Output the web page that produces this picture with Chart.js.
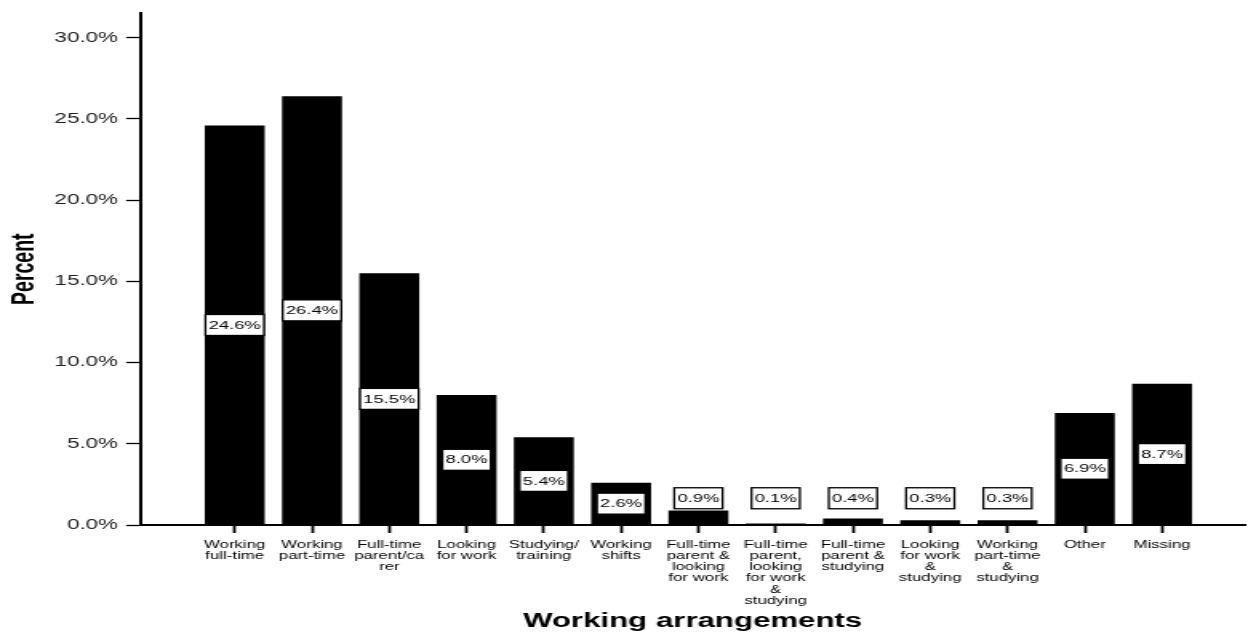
<!DOCTYPE html>
<html>
<head>
<meta charset="utf-8">
<script src="https://cdn.jsdelivr.net/npm/chart.js@4.4.0/dist/chart.umd.min.js"></script>
<style>
  html, body { margin: 0; padding: 0; background: #fff; overflow: hidden; }
  /* the reference is stretched sideways, so draw narrow and scale it out */
  #wrap { width: 780px; height: 642px; transform: scaleX(1.6); transform-origin: 0 0; }
</style>
</head>
<body>
<div id="wrap"><canvas id="chart" width="780" height="642"></canvas></div>
<script>
const categories = [
  ['Working', 'full-time'],
  ['Working', 'part-time'],
  ['Full-time', 'parent/ca', 'rer'],
  ['Looking', 'for work'],
  ['Studying/', 'training'],
  ['Working', 'shifts'],
  ['Full-time', 'parent &', 'looking', 'for work'],
  ['Full-time', 'parent,', 'looking', 'for work', '&', 'studying'],
  ['Full-time', 'parent &', 'studying'],
  ['Looking', 'for work', '&', 'studying'],
  ['Working', 'part-time', '&', 'studying'],
  ['Other'],
  ['Missing']
];
const percents = [24.6, 26.4, 15.5, 8.0, 5.4, 2.6, 0.9, 0.1, 0.4, 0.3, 0.3, 6.9, 8.7];
const yTicks = [0, 5, 10, 15, 20, 25, 30];

const FONT = '"Liberation Sans", Arial, Helvetica, sans-serif';

// white boxed value labels, centred in the bar or sat above short bars
const boxLabels = {
  id: 'boxLabels',
  afterDatasetsDraw(chart) {
    const ctx = chart.ctx;
    const yScale = chart.scales.y;
    const meta = chart.getDatasetMeta(0);
    ctx.save();
    ctx.font = '11.5px ' + FONT;
    ctx.textAlign = 'center';
    ctx.textBaseline = 'middle';
    meta.data.forEach((bar, i) => {
      const text = percents[i].toFixed(1) + '%';
      const w = ctx.measureText(text).width + 4;
      const h = 21;
      const barH = bar.base - bar.y;
      const cy = barH > h + 4 ? (bar.y + bar.base) / 2 : yScale.getPixelForValue(1) - h / 2;
      ctx.fillStyle = '#fff';
      ctx.fillRect(bar.x - w / 2, cy - h / 2, w, h);
      ctx.strokeStyle = '#000';
      ctx.lineWidth = 1.3;
      ctx.strokeRect(bar.x - w / 2, cy - h / 2, w, h);
      ctx.fillStyle = '#000';
      ctx.fillText(text, bar.x, cy + 0.5);
    });
    ctx.restore();
  }
};

new Chart(document.getElementById('chart'), {
  type: 'bar',
  data: {
    datasets: [{
      data: percents.map((p, i) => ({ x: i, y: p })),
      backgroundColor: '#000',
      borderWidth: 0,
      barPercentage: 0.776,
      categoryPercentage: 1
    }]
  },
  options: {
    responsive: false,
    animation: false,
    devicePixelRatio: 1,
    layout: { padding: { top: 9, right: 2, left: 0, bottom: 0 } },
    plugins: { legend: { display: false }, tooltip: { enabled: false } },
    scales: {
      x: {
        type: 'linear',
        offset: false,
        bounds: 'data',
        min: -1.22,
        max: 13.07,
        afterBuildTicks: s => { s.ticks = categories.map((c, i) => ({ value: i })); },
        afterFit: s => { s.height = 117; },
        ticks: {
          autoSkip: false,
          maxRotation: 0,
          padding: 7,
          color: '#000',
          font: { family: FONT, size: 10.5, lineHeight: 1.05 },
          callback: v => categories[v]
        },
        grid: { offset: false, drawOnChartArea: false, drawTicks: true, tickLength: 8, tickWidth: 1.8, tickColor: '#000' },
        border: { color: '#000', width: 2 },
        title: {
          display: true,
          text: 'Working arrangements',
          color: '#000',
          font: { family: FONT, size: 19.5, weight: 'bold' },
          padding: { top: 0, bottom: 9 }
        }
      },
      y: {
        min: 0,
        max: 31.5,
        afterBuildTicks: s => { s.ticks = yTicks.map(v => ({ value: v })); },
        afterFit: s => { s.width = 87.8; },
        ticks: {
          padding: 5,
          color: '#222',
          font: { family: FONT, size: 14 },
          callback: v => v.toFixed(1) + '%'
        },
        grid: { drawOnChartArea: false, drawTicks: true, tickLength: 9, tickWidth: 1.3, tickColor: '#000' },
        border: { color: '#000', width: 2 },
        title: {
          display: true,
          text: 'Percent',
          color: '#000',
          font: { family: FONT, size: 19.5, weight: 'bold' },
          padding: { top: 4, bottom: 0 }
        }
      }
    }
  },
  plugins: [boxLabels]
});
</script>
</body>
</html>
